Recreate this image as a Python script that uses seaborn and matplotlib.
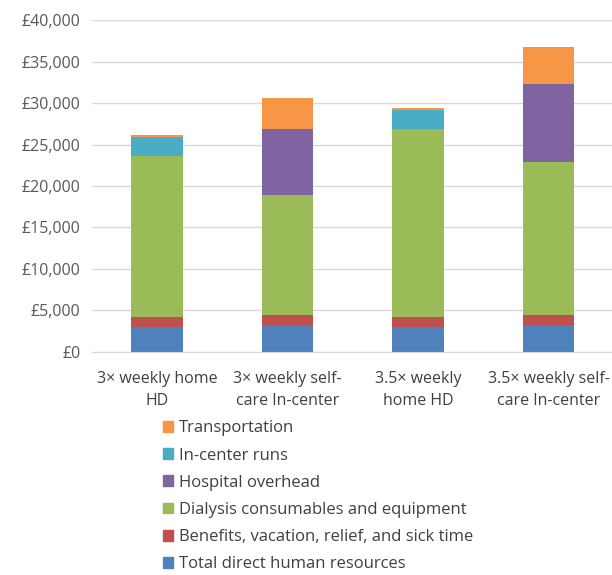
import numpy as np
import pandas as pd
import matplotlib
matplotlib.use('Agg')
import matplotlib.pyplot as plt
from matplotlib.patches import Patch
from matplotlib.ticker import FuncFormatter
import seaborn as sns

categories = ['3× weekly home\nHD', '3× weekly self-\ncare In-center',
              '3.5× weekly\nhome HD', '3.5× weekly self-\ncare In-center']
series = ['Total direct human resources', 'Benefits, vacation, relief, and sick time',
          'Dialysis consumables and equipment', 'Hospital overhead',
          'In-center runs', 'Transportation']
hr = [3020, 3220, 3020, 3220]
benefits = [1200, 1250, 1200, 1250]
consumables = [19440, 14480, 22660, 18430]
overhead = [0, 7930, 0, 9400]
runs = [2290, 0, 2250, 0]
transport = [200, 3740, 280, 4440]
colors = ['#4F81BD', '#C0504D', '#9BBB59', '#8064A2', '#4BACC6', '#F79646']

sns.set_style('white')
plt.rcParams['font.family'] = ['Open Sans', 'DejaVu Sans']

df = pd.DataFrame({'cat': categories})
values = [hr, benefits, consumables, overhead, runs, transport]
cum = np.cumsum(np.array(values), axis=0)

fig = plt.figure(figsize=(6.12, 5.75), dpi=100)
ax = fig.add_axes([0.150, 0.388, 0.853, 0.577])

# draw cumulative totals from top series down so each layer covers the next
for i in range(len(series) - 1, -1, -1):
    df['v'] = cum[i]
    sns.barplot(data=df, x='cat', y='v', color=colors[i], width=0.395,
                saturation=1, linewidth=0, edgecolor='none', ax=ax, zorder=2)

ax.set_ylim(0, 40000)
ax.set_yticks(range(0, 40001, 5000))
ax.yaxis.set_major_formatter(FuncFormatter(lambda v, p: '£{:,.0f}'.format(v)))
ax.grid(axis='y', color='#D9D9D9', linewidth=1, zorder=0)
ax.set_axisbelow(True)
for s in ['top', 'right', 'left']:
    ax.spines[s].set_visible(False)
ax.spines['bottom'].set_color('#D9D9D9')
ax.set_xlabel('')
ax.set_ylabel('')
ax.tick_params(axis='both', length=0, labelsize=11.5, colors='#595959', pad=8)
ax.tick_params(axis='x', labelcolor='#404040', pad=14)
for t in ax.get_xticklabels():
    t.set_linespacing(1.45)
ax.set_xlim(-0.5, 3.5)

handles = [Patch(color=colors[i], label=series[i]) for i in range(len(series) - 1, -1, -1)]
fig.legend(handles=handles, loc='upper left', bbox_to_anchor=(0.242, 0.295),
           frameon=False, fontsize=12, handlelength=0.62, handleheight=0.62,
           handletextpad=0.35, labelspacing=0.67, labelcolor='#404040')

fig.savefig('out.png', dpi=100)
